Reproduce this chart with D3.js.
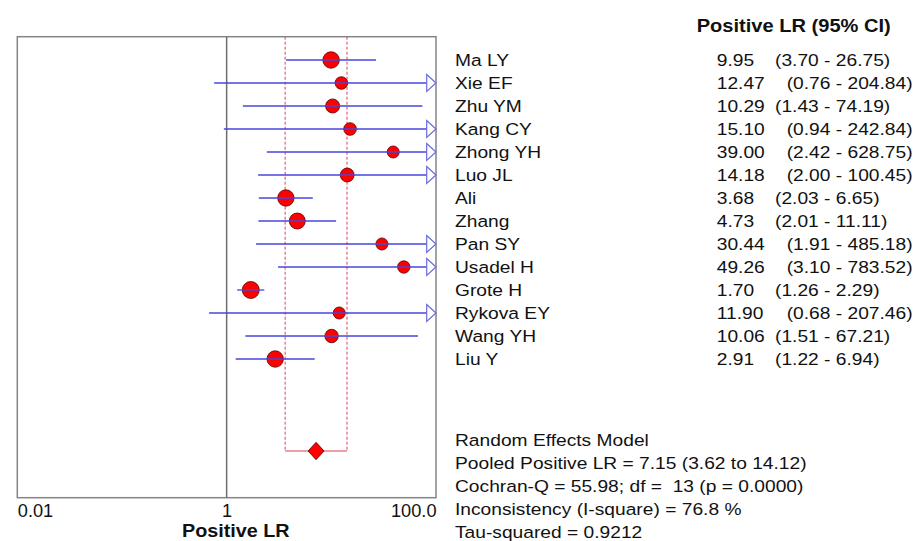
<!DOCTYPE html>
<html>
<head>
<meta charset="utf-8">
<script src="https://cdn.jsdelivr.net/npm/d3@7"></script>
<style>
  html, body { margin: 0; padding: 0; background: #fff; }
  svg { display: block; font-family: Arial, "Liberation Sans", sans-serif; }
  svg text { white-space: pre; }
</style>
</head>
<body>
<svg id="chart" width="914" height="541"></svg>
<script>
// Study-level positive likelihood ratios with 95% confidence intervals
const studies = ["Ma LY", "Xie EF", "Zhu YM", "Kang CY", "Zhong YH", "Luo JL", "Ali",
                 "Zhang", "Pan SY", "Usadel H", "Grote H", "Rykova EY", "Wang YH", "Liu Y"];
const lr     = [9.95, 12.47, 10.29, 15.10, 39.00, 14.18, 3.68, 4.73, 30.44, 49.26, 1.70, 11.90, 10.06, 2.91];
const ciLow  = [3.70, 0.76, 1.43, 0.94, 2.42, 2.00, 2.03, 2.01, 1.91, 3.10, 1.26, 0.68, 1.51, 1.22];
const ciHigh = [26.75, 204.84, 74.19, 242.84, 628.75, 100.45, 6.65, 11.11, 485.18, 783.52, 2.29, 207.46, 67.21, 6.94];
// relative study weights (%), shown as marker area
const weights = [9.9, 5.8, 7.2, 5.8, 5.3, 7.0, 9.8, 9.3, 5.3, 5.6, 10.5, 5.3, 6.6, 9.8];

// Pooled random-effects estimate
const pooledLR = 7.15, pooledLow = 3.62, pooledHigh = 14.12;

// Axis ticks
const tickValues = [0.01, 1, 100];
const tickLabels = ["0.01", "1", "100.0"];

const headerText = "Positive LR (95% CI)";
const axisTitle = "Positive LR";
const summaryLines = [
  "Random Effects Model",
  "Pooled Positive LR = 7.15 (3.62 to 14.12)",
  "Cochran-Q = 55.98; df =  13 (p = 0.0000)",
  "Inconsistency (I-square) = 76.8 %",
  "Tau-squared = 0.9212"
];

const svg = d3.select("#chart");

const x = d3.scaleLog().domain([0.01, 100]).range([17.3, 436]);
const y = d3.scaleLinear().domain([0, 13]).range([60, 359]);
const r = d3.scaleSqrt().domain([0, 10.5]).range([0, 8.5]);

const plotTop = 36.7, plotBottom = 497.7;
const pooledRow = 17;

const BLUE = "#4646dc";
const RED_LINE = "#e0405a";

// text helper: anchored at (px, py), with a horizontal stretch sx
function label(g, px, py, str, size, sx, weight, anchor) {
  return g.append("text")
    .attr("transform", `translate(${px},${py}) scale(${sx},1)`)
    .attr("font-size", size)
    .attr("font-weight", weight || "normal")
    .attr("text-anchor", anchor || "start")
    .attr("fill", "#111")
    .text(str);
}

// plot frame
svg.append("rect")
  .attr("x", x.range()[0]).attr("y", plotTop)
  .attr("width", x.range()[1] - x.range()[0]).attr("height", plotBottom - plotTop)
  .attr("fill", "none").attr("stroke", "#858585").attr("stroke-width", 1.5);

// line of no effect (LR = 1)
svg.append("line")
  .attr("x1", x(1)).attr("x2", x(1))
  .attr("y1", plotTop).attr("y2", plotBottom)
  .attr("stroke", "#6e6e6e").attr("stroke-width", 1.5);

// pooled CI band: dashed verticals and base line
const band = svg.append("g");
[pooledLow, pooledHigh].forEach(v => {
  band.append("line")
    .attr("x1", x(v)).attr("x2", x(v))
    .attr("y1", plotTop).attr("y2", y(pooledRow))
    .attr("stroke", RED_LINE).attr("stroke-width", 1)
    .attr("stroke-dasharray", "3,2");
});
band.append("line")
  .attr("x1", x(pooledLow)).attr("x2", x(pooledHigh))
  .attr("y1", y(pooledRow)).attr("y2", y(pooledRow))
  .attr("stroke", RED_LINE).attr("stroke-width", 1.2);

// study markers
const idx = d3.range(studies.length);
svg.append("g").selectAll("circle")
  .data(idx).join("circle")
  .attr("cx", i => x(lr[i]))
  .attr("cy", i => y(i))
  .attr("r", i => r(weights[i]))
  .attr("fill", "#ff0000")
  .attr("stroke", "#5a0000").attr("stroke-width", 0.8);

// confidence interval lines (drawn over the markers)
const xMax = x.domain()[1];
const arrowLen = 9.3, arrowHalf = 8.5;
const ciG = svg.append("g");
idx.forEach(i => {
  const clipped = ciHigh[i] > xMax;
  const xr = clipped ? x(xMax) - arrowLen : x(ciHigh[i]);
  ciG.append("line")
    .attr("x1", x(ciLow[i])).attr("x2", xr)
    .attr("y1", y(i)).attr("y2", y(i))
    .attr("stroke", BLUE).attr("stroke-width", 1.3);
  if (clipped) {
    const tip = x(xMax), base = tip - arrowLen, cy = y(i);
    ciG.append("path")
      .attr("d", `M${base},${cy - arrowHalf}L${tip},${cy}L${base},${cy + arrowHalf}Z`)
      .attr("fill", "#fff").attr("stroke", "#6a6ae0").attr("stroke-width", 1.2);
  }
});

// pooled diamond
const dx = x(pooledLR), dy = y(pooledRow);
svg.append("path")
  .attr("d", `M${dx - 8},${dy}L${dx},${dy - 8.7}L${dx + 8},${dy}L${dx},${dy + 8.7}Z`)
  .attr("fill", "#ff0000").attr("stroke", "#5a0000").attr("stroke-width", 0.8);

// x axis labels
const axis = d3.axisBottom(x)
  .tickValues(tickValues)
  .tickSize(0)
  .tickPadding(0)
  .tickFormat((d, i) => tickLabels[i]);
const axG = svg.append("g").attr("transform", `translate(0,${plotBottom})`).call(axis);
axG.select(".domain").remove();
axG.selectAll("text")
  .attr("y", 19.8).attr("dy", null)
  .attr("font-size", 17.5)
  .attr("font-family", "Arial, 'Liberation Sans', sans-serif")
  .attr("fill", "#111")
  .attr("text-anchor", (d, i) => i === 0 ? "start" : (i === tickValues.length - 1 ? "end" : "middle"))
  .attr("transform", "scale(1.04,1)");

label(svg, 235.8, 536.5, axisTitle, 18.5, 1.07, "bold", "middle");

// right-hand table
label(svg, 696.7, 31.7, headerText, 18.5, 1.085, "bold", "start");
const tbl = svg.append("g");
idx.forEach(i => {
  const by = y(i) + 6.3;
  label(tbl, 455, by, studies[i], 17, 1.13);
  label(tbl, 716.7, by, lr[i].toFixed(2), 17, 1.13);
  const ciX = ciHigh[i] >= 100 ? 786.7 : 775;
  label(tbl, ciX, by, `(${ciLow[i].toFixed(2)} - ${ciHigh[i].toFixed(2)})`, 17, 1.13);
});

// summary statistics
summaryLines.forEach((s, k) => {
  label(svg, 455, y(16.5 + k) + 6.8, s, 17, 1.13);
});
</script>
</body>
</html>
